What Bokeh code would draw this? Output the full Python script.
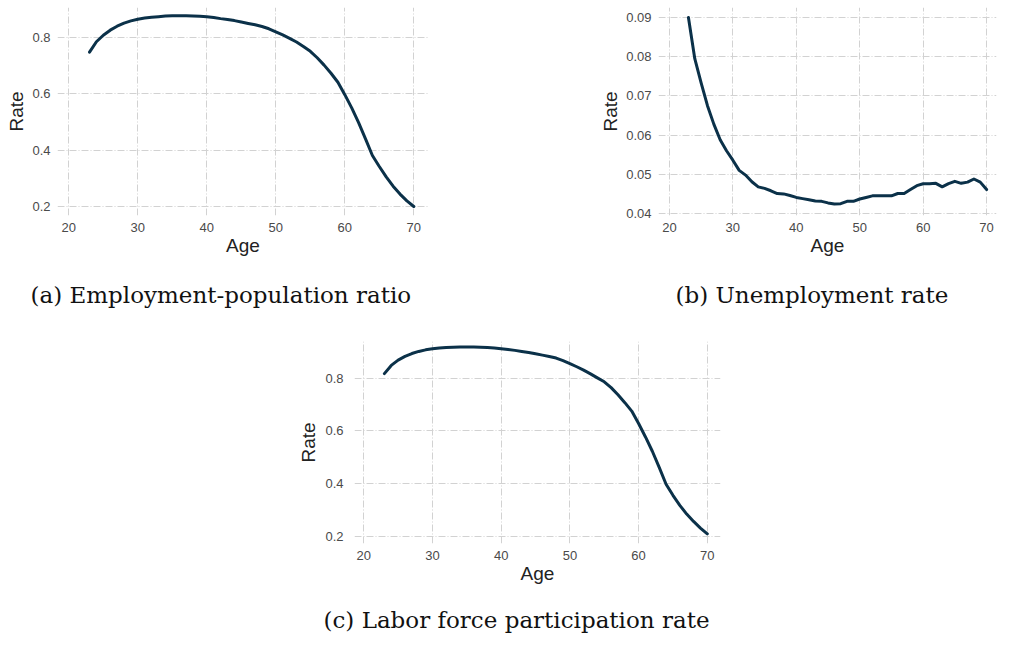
from bokeh.plotting import figure
from bokeh.layouts import column, row
from bokeh.models import Range1d, FixedTicker, Title, Spacer
from bokeh.embed import file_html
from bokeh.resources import INLINE

ages = list(range(23, 71))

emp_pop = [0.748, 0.785, 0.808, 0.826, 0.840, 0.851, 0.859, 0.865, 0.869, 0.872,
           0.874, 0.876, 0.877, 0.877, 0.877, 0.876, 0.875, 0.874, 0.871, 0.867,
           0.864, 0.860, 0.855, 0.850, 0.845, 0.839, 0.831, 0.820, 0.809, 0.797,
           0.784, 0.768, 0.751, 0.728, 0.702, 0.673, 0.641, 0.597, 0.550, 0.498,
           0.440, 0.381, 0.342, 0.305, 0.272, 0.244, 0.220, 0.200]

unemp = [0.0900, 0.0795, 0.0733, 0.0675, 0.0628, 0.0588, 0.0560, 0.0536, 0.0510, 0.0498,
         0.0481, 0.0468, 0.0464, 0.0458, 0.0451, 0.0450, 0.0446, 0.0441, 0.0438, 0.0435,
         0.0432, 0.0431, 0.0427, 0.0424, 0.0425, 0.0431, 0.0431, 0.0437, 0.0441, 0.0445,
         0.0445, 0.0445, 0.0445, 0.0451, 0.0451, 0.0461, 0.0471, 0.0476, 0.0476, 0.0477,
         0.0468, 0.0476, 0.0482, 0.0477, 0.0480, 0.0488, 0.0480, 0.0461]

lfpr = [0.817, 0.848, 0.868, 0.882, 0.893, 0.901, 0.907, 0.911, 0.914, 0.916,
        0.917, 0.918, 0.918, 0.918, 0.917, 0.916, 0.914, 0.911, 0.908, 0.905,
        0.901, 0.897, 0.892, 0.887, 0.882, 0.876, 0.866, 0.855, 0.843, 0.830,
        0.816, 0.801, 0.786, 0.764, 0.737, 0.707, 0.675, 0.628, 0.577, 0.523,
        0.462, 0.398, 0.356, 0.318, 0.285, 0.257, 0.232, 0.210]

x_ticks = [20, 30, 40, 50, 60, 70]
y_ticks_a = [0.2, 0.4, 0.6, 0.8]
y_ticks_b = [0.04, 0.05, 0.06, 0.07, 0.08, 0.09]
y_ticks_c = [0.2, 0.4, 0.6, 0.8]

captions = ["(a) Employment-population ratio", "(b) Unemployment rate",
            "(c) Labor force participation rate"]

LINE = "#0b3149"
GRID = "#d2d2d2"


def make(values, yticks, xr, yr, w, h, mb, caption, cap_offset, gap,
         ylab_standoff=7, yaxis_standoff=2):
    p = figure(width=w, height=h, output_backend="svg", toolbar_location=None,
               x_range=Range1d(*xr), y_range=Range1d(*yr),
               min_border_left=mb[0], min_border_right=mb[1],
               min_border_top=mb[2], min_border_bottom=mb[3])
    p.outline_line_color = None
    p.background_fill_color = "white"
    p.border_fill_color = "white"
    for ax in (p.xaxis[0], p.yaxis[0]):
        ax.axis_line_color = None
        ax.major_tick_line_color = None
        ax.minor_tick_line_color = None
        ax.major_tick_out = 0
        ax.major_tick_in = 0
        ax.major_label_text_font = "Liberation Sans"
        ax.major_label_text_font_size = "13px"
        ax.major_label_text_color = "#4a4a4a"
        ax.axis_label_text_font = "Liberation Sans"
        ax.axis_label_text_font_size = "19px"
        ax.axis_label_text_font_style = "normal"
        ax.axis_label_text_color = "#222222"
    p.xaxis.ticker = FixedTicker(ticks=x_ticks)
    p.yaxis.ticker = FixedTicker(ticks=yticks)
    p.xaxis.axis_label = "Age"
    p.yaxis.axis_label = "Rate"
    p.xaxis.major_label_standoff = 7
    p.xaxis.axis_label_standoff = 0
    p.yaxis.major_label_standoff = ylab_standoff
    p.yaxis.axis_label_standoff = yaxis_standoff
    for g in (p.xgrid[0], p.ygrid[0]):
        g.grid_line_color = GRID
        g.grid_line_width = 1
        g.grid_line_dash = "7 2 1 2"
    p.line(x=ages, y=values, line_width=3, line_color=LINE, line_join="round",
           line_cap="round")
    spacer = Title(text=" ", text_font_size="1px", standoff=gap)
    p.add_layout(spacer, "below")
    t = Title(text=caption, align="left", offset=cap_offset,
              text_font="DejaVu Serif", text_font_size="23px",
              text_font_style="normal", text_color="#111111", standoff=0)
    p.add_layout(t, "below")
    return p


p1 = make(emp_pop, y_ticks_a, (18.36, 72.13), (0.1680, 0.9065), 440, 309,
          (57, 12, 7, 94), captions[0], -27, 18)
p2 = make(unemp, y_ticks_b, (18.28, 71.56), (0.03949, 0.09255), 402, 309,
          (58, 3, 7, 94), captions[1], 17, 18)
p3 = make(lfpr, y_ticks_c, (18.65, 71.92), (0.1735, 0.9386), 437, 325,
          (57, 12, 32, 91), captions[2], -31, 15, ylab_standoff=11,
          yaxis_standoff=3)

layout = column(row(p1, Spacer(width=157, height=309), p2),
                row(Spacer(width=295, height=325), p3))

open("out.html", "w").write(file_html(layout, INLINE))
